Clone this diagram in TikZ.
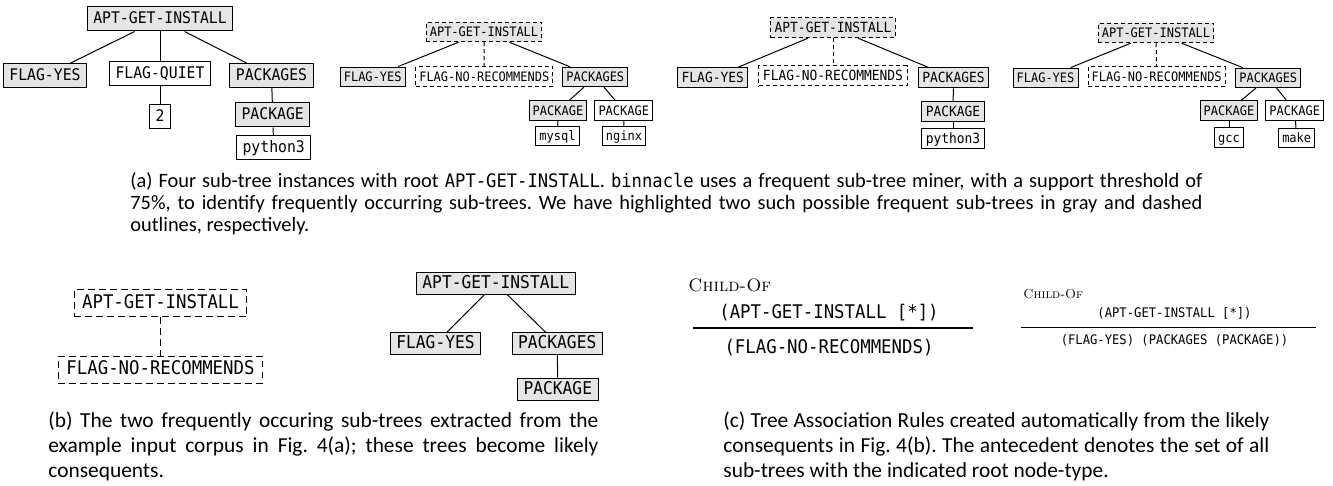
\documentclass[tikz,border=0pt]{standalone}
\usepackage{fontspec}
\newfontfamily\tf[FakeStretch=0.923]{DejaVu Sans Mono}
\newfontfamily\capf{Carlito}
\newcommand\cmono[1]{{\tf\fontsize{9.3}{11}\selectfont #1}}
\tikzset{
  tb/.style={draw, line width=0.5pt, inner ysep=0pt, text height=0.72em, text depth=0.22em, anchor=center},
  gfill/.style={fill=black!10},
  wfill/.style={fill=white},
  dsh/.style={dash pattern=on 2pt off 1.5pt},
  dshB/.style={dash pattern=on 3.3pt off 2.2pt},
  edge/.style={line width=0.5pt},
  TA/.style={tb, font=\tf\fontsize{8}{9}\selectfont, inner xsep=3pt, minimum height=12pt},
  TB/.style={tb, font=\tf\fontsize{6.5}{7.5}\selectfont, inner xsep=1.8pt, minimum height=9.75pt},
  TC/.style={tb, font=\tf\fontsize{7}{8}\selectfont, inner xsep=2pt, minimum height=10pt},
  BA/.style={tb, font=\tf\fontsize{9.4}{11}\selectfont, inner xsep=4pt, minimum height=13.5pt},
  BB/.style={tb, font=\tf\fontsize{8.8}{10}\selectfont, inner xsep=3pt, minimum height=11pt},
  captxt/.style={anchor=base west, inner sep=0pt, font=\capf\fontsize{10.7}{12}\selectfont},
  captxta/.style={anchor=base west, inner sep=0pt, font=\capf\fontsize{10.2}{11}\selectfont},
  rtxt/.style={anchor=base, inner sep=0pt},
}
\begin{document}
\frenchspacing
\begin{tikzpicture}[x=0.5pt,y=-0.5pt]
\useasboundingbox (0,0) rectangle (1333,486);

% ---------- Tree 1 ----------
\node[TA,gfill] (t1r) at (160,19) {APT-GET-INSTALL};
\node[TA,gfill] (t1a) at (45,75.7) {FLAG-YES};
\node[TA,wfill] (t1b) at (160,73.3) {FLAG-QUIET};
\node[TA,gfill] (t1c) at (271.5,75.7) {PACKAGES};
\node[TA,wfill] (t1d) at (160,116.7) {2};
\node[TA,gfill] (t1e) at (272.7,115) {PACKAGE};
\node[TA,wfill] (t1f) at (273.7,147.5) {python3};
\draw[edge] (t1r) -- (t1a);
\draw[edge] (t1r) -- (t1b);
\draw[edge] (t1r) -- (t1c);
\draw[edge] (t1b) -- (t1d);
\draw[edge] (t1c) -- (t1e);
\draw[edge] (t1e) -- (t1f);

% ---------- Tree 2 ----------
\node[TB,gfill,dsh] (t2r) at (484,32) {APT-GET-INSTALL};
\node[TB,gfill] (t2a) at (372.7,76.8) {FLAG-YES};
\node[TB,wfill,dsh] (t2b) at (484.3,76.3) {FLAG-NO-RECOMMENDS};
\node[TB,gfill] (t2c) at (595.3,77) {PACKAGES};
\node[TB,gfill] (t2d) at (558,110.5) {PACKAGE};
\node[TB,wfill] (t2e) at (623.8,110.5) {PACKAGE};
\node[TB,wfill] (t2f) at (557.5,136) {mysql};
\node[TB,wfill] (t2g) at (624,136) {nginx};
\draw[edge] (t2r) -- (t2a);
\draw[edge,dsh] (t2r) -- (t2b);
\draw[edge] (t2r) -- (t2c);
\draw[edge] (t2c) -- (t2d);
\draw[edge] (t2c) -- (t2e);
\draw[edge] (t2d) -- (t2f);
\draw[edge] (t2e) -- (t2g);

% ---------- Tree 3 ----------
\node[TC,gfill,dsh] (t3r) at (833,27.8) {APT-GET-INSTALL};
\node[TC,gfill] (t3a) at (712.8,77.8) {FLAG-YES};
\node[TC,wfill,dsh] (t3b) at (833,76) {FLAG-NO-RECOMMENDS};
\node[TC,gfill] (t3c) at (953.5,77.8) {PACKAGES};
\node[TC,gfill] (t3d) at (953,112) {PACKAGE};
\node[TC,wfill] (t3e) at (953,138.8) {python3};
\draw[edge] (t3r) -- (t3a);
\draw[edge,dsh] (t3r) -- (t3b);
\draw[edge] (t3r) -- (t3c);
\draw[edge] (t3c) -- (t3d);
\draw[edge] (t3d) -- (t3e);

% ---------- Tree 4 ----------
\node[TB,gfill,dsh] (t4r) at (1156,33) {APT-GET-INSTALL};
\node[TB,gfill] (t4a) at (1045.5,77.8) {FLAG-YES};
\node[TB,wfill,dsh] (t4b) at (1156.7,76.7) {FLAG-NO-RECOMMENDS};
\node[TB,gfill] (t4c) at (1268.3,77.8) {PACKAGES};
\node[TB,gfill] (t4d) at (1229,110.5) {PACKAGE};
\node[TB,wfill] (t4e) at (1294.7,110.5) {PACKAGE};
\node[TB,wfill] (t4f) at (1229,137.5) {gcc};
\node[TB,wfill] (t4g) at (1296.7,138) {make};
\draw[edge] (t4r) -- (t4a);
\draw[edge,dsh] (t4r) -- (t4b);
\draw[edge] (t4r) -- (t4c);
\draw[edge] (t4c) -- (t4d);
\draw[edge] (t4c) -- (t4e);
\draw[edge] (t4d) -- (t4f);
\draw[edge] (t4e) -- (t4g);

% ---------- Caption (a) ----------
\node[captxta] (capa1) at (130,188) {\makebox[536pt][s]{(a) Four sub-tree instances with root \cmono{APT-GET-INSTALL}. \cmono{binnacle} uses a frequent sub-tree miner, with a support threshold of}};
\node[captxta] (capa2) at (130,210) {\makebox[536pt][s]{75\%, to identify frequently occurring sub-trees. We have highlighted two such possible frequent sub-trees in gray and dashed}};
\node[captxta] (capa3) at (130,232) {outlines, respectively.};

% ---------- (b) trees ----------
\node[BA,wfill,dshB] (b1r) at (160.5,303.3) {APT-GET-INSTALL};
\node[BA,wfill,dshB] (b1a) at (160.5,369.7) {FLAG-NO-RECOMMENDS};
\draw[edge,dshB] (b1r) -- (b1a);

\node[BB,gfill] (b2r) at (495.8,283.3) {APT-GET-INSTALL};
\node[BB,gfill] (b2a) at (435.5,343.7) {FLAG-YES};
\node[BB,gfill] (b2c) at (557.2,343.7) {PACKAGES};
\node[BB,gfill] (b2d) at (557.8,389.2) {PACKAGE};
\draw[edge] (b2r) -- (b2a);
\draw[edge] (b2r) -- (b2c);
\draw[edge] (b2c) -- (b2d);

% ---------- Caption (b) ----------
\node[captxt] (capb1) at (48,427) {\makebox[275pt][s]{(b) The two frequently occuring sub-trees extracted from the}};
\node[captxt] (capb2) at (48,452) {\makebox[275pt][s]{example input corpus in Fig. 4(a); these trees become likely}};
\node[captxt] (capb3) at (48,477) {consequents.};

% ---------- (c) rules ----------
\node[anchor=base west, inner sep=0pt, font=\fontsize{9}{10}\selectfont] (r1c) at (688,291.7) {\textsc{Child-Of}};
\node[rtxt, font=\tf\fontsize{9.4}{11}\selectfont] (r1a) at (829,318) {(APT-GET-INSTALL [*])};
\coordinate (r1L) at (693,328);
\coordinate (r1R) at (973,328);
\draw[line width=0.6pt] (r1L) -- (r1R);
\node[rtxt, font=\tf\fontsize{9.4}{11}\selectfont] (r1b) at (829,353) {(FLAG-NO-RECOMMENDS)};

\node[anchor=base west, inner sep=0pt, font=\fontsize{6.5}{7.5}\selectfont] (r2c) at (1023,299) {\textsc{Child-Of}};
\node[rtxt, font=\tf\fontsize{6.6}{7.5}\selectfont] (r2a) at (1174.5,317) {(APT-GET-INSTALL [*])};
\coordinate (r2L) at (1021,327.6);
\coordinate (r2R) at (1316,327.6);
\draw[line width=0.6pt] (r2L) -- (r2R);
\node[rtxt, font=\tf\fontsize{6.6}{7.5}\selectfont] (r2b) at (1174.5,344) {(FLAG-YES) (PACKAGES (PACKAGE))};

% ---------- Caption (c) ----------
\node[captxt] (capc1) at (723,427) {\makebox[273pt][s]{(c) Tree Association Rules created automatically from the likely}};
\node[captxt] (capc2) at (723,452) {\makebox[273pt][s]{consequents in Fig. 4(b). The antecedent denotes the set of all}};
\node[captxt] (capc3) at (723,477) {sub-trees with the indicated root node-type.};
\end{tikzpicture}
\end{document}
